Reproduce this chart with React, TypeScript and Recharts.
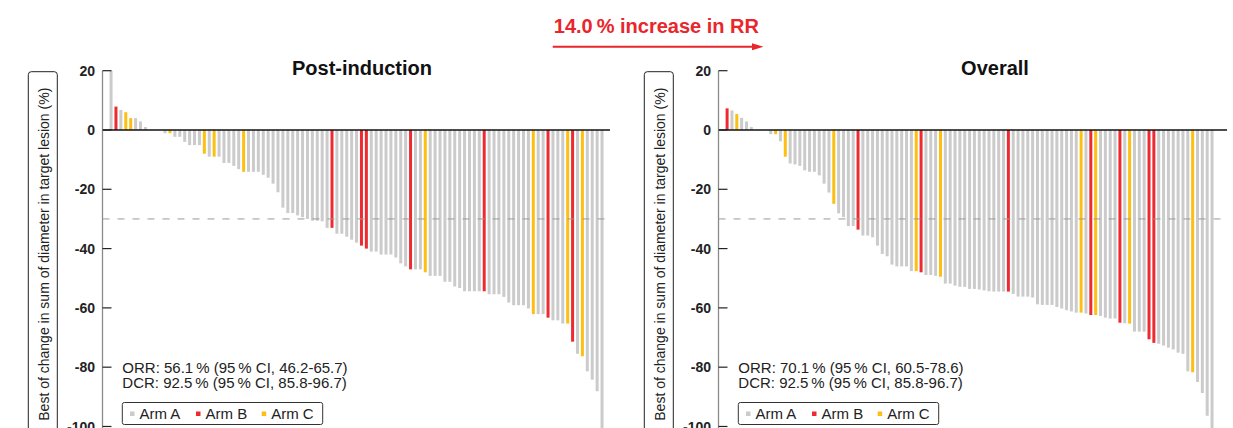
import React from 'react';
import { BarChart, Bar, XAxis, YAxis, ReferenceLine, Cell } from 'recharts';

// best % change per patient, sorted (post-induction panel)
const leftChange = [
  20, 7.9, 6.8, 6, 4, 4, 2.9, 1, 0, 0, 0, -1.1, -1.1, -2.3, -2.3, -4, -5.1, -5.1, -5.1, -8,
  -9, -9, -9, -11.1, -11.1, -12.1, -13.2, -14.1, -14.1, -14.1, -14.1, -15.1, -16.1, -18.1, -21, -26.2, -28, -28, -28.8, -29.4,
  -30, -30.6, -30.6, -30.8, -33, -33, -35, -35, -36, -37, -38, -39, -40, -41, -41, -42, -42, -42, -43, -45,
  -46, -47, -47, -47, -48, -49.2, -49.2, -49.2, -51.2, -51.2, -52.8, -53.3, -54.4, -54.4, -54.4, -54.4, -54.4, -55.4, -55.4, -55.4,
  -56.3, -58.2, -59.1, -59.1, -59.1, -60.2, -62.1, -62.1, -62.1, -63.3, -64.2, -64.2, -65.3, -65.3, -71.4, -75.5, -76.3, -81.4, -84.2, -88.1,
  -100.6,
];
const leftArmB = [2, 46, 52, 53, 62, 77, 90, 95];
const leftArmC = [4, 5, 13, 20, 22, 28, 65, 87, 94, 97];

// best % change per patient, sorted (overall panel)
const rightChange = [
  7.3, 6.6, 5.4, 4.1, 2.9, 1, 0, 0, 0, -1.4, -1.4, -3.8, -9, -11.3, -11.6, -12.1, -13.6, -14.1, -14.1, -15.3,
  -18.1, -21.1, -24.9, -28.1, -29.4, -32.4, -32.4, -33.6, -35.6, -35.6, -36.2, -39, -41.8, -42.6, -45.4, -46, -46, -46, -47.6, -47.6,
  -48, -48.9, -48.9, -49.2, -49.5, -51.8, -51.8, -52.5, -52.9, -52.9, -53.6, -53.6, -53.8, -54.1, -54.4, -54.5, -54.5, -54.5, -54.5, -55.3,
  -56.2, -56.2, -56.2, -56.5, -58.8, -59, -59, -59, -59.7, -60.2, -60.8, -61.2, -61.6, -61.6, -61.9, -62.4, -62.4, -62.7, -63.3, -63.6,
  -63.6, -65, -65.2, -65.3, -68, -68, -68, -70.6, -71.8, -72.1, -72.7, -73.4, -74, -75.1, -75.5, -81.4, -81.7, -85, -88.7, -96.4,
  -100.6,
];
const rightArmB = [1, 28, 41, 59, 76, 82, 88, 89];
const rightArmC = [3, 11, 13, 23, 40, 45, 74, 77, 84, 97];

const yTicks = [20, 0, -20, -40, -60, -80, -100];
const responseCutoff = -30;

const armNames = ['Arm A', 'Arm B', 'Arm C'];
const armColors = ['#cbcbcb', '#ee2a30', '#fdbf12'];

const leftStats = ['ORR: 56.1\u2009% (95\u2009% CI, 46.2-65.7)', 'DCR: 92.5\u2009% (95\u2009% CI, 85.8-96.7)'];
const rightStats = ['ORR: 70.1\u2009% (95\u2009% CI, 60.5-78.6)', 'DCR: 92.5\u2009% (95\u2009% CI, 85.8-96.7)'];

const FONT = '"Liberation Sans", Arial, Helvetica, sans-serif';
const OFFSET = 616; // horizontal shift of the second panel

const buildRows = (values: number[], armB: number[], armC: number[]) =>
  values.map((v, i) => {
    const rank = i + 1;
    const arm = armB.includes(rank) ? 1 : armC.includes(rank) ? 2 : 0;
    return { rank, change: v, arm };
  });

const YTick = ({ x, y, payload }: any) => (
  <g>
    <line x1={x} x2={x + 9} y1={y} y2={y} stroke="#222" strokeWidth={1.2} />
    <text x={x - 7.5} y={y} dy="0.36em" textAnchor="end" fontSize={14} fontWeight="bold" fill="#222" fontFamily={FONT}>
      {payload.value}
    </text>
  </g>
);

interface PanelProps {
  values: number[];
  armB: number[];
  armC: number[];
  width: number;
  marginRight: number;
  padding: { left: number; right: number };
}

const Waterfall: React.FC<PanelProps> = ({ values, armB, armC, width, marginRight, padding }) => {
  const rows = buildRows(values, armB, armC);
  return (
    <BarChart width={width} height={450} data={rows} margin={{ top: 70.7, right: marginRight, bottom: 8.7, left: 0 }}>
      <XAxis dataKey="rank" type="category" hide padding={padding} />
      <YAxis
        type="number"
        domain={[-105, 20]}
        ticks={yTicks}
        interval={0}
        width={102.5}
        tickSize={0}
        tickMargin={0}
        tickLine={false}
        tick={<YTick />}
        axisLine={{ stroke: '#8a8a8a', strokeWidth: 1.3 }}
      />
      <Bar dataKey="change" barSize={3} isAnimationActive={false}>
        {rows.map((r) => (
          <Cell key={r.rank} fill={armColors[r.arm]} />
        ))}
      </Bar>
      <ReferenceLine y={responseCutoff} stroke="#9a9a9a" strokeWidth={1} strokeDasharray="7 8" />
      <ReferenceLine y={0} stroke="#111" strokeWidth={1.3} />
    </BarChart>
  );
};

const PanelText: React.FC<{ dx: number; title: string; titleX: number; stats: string[] }> = ({ dx, title, titleX, stats }) => (
  <g fontFamily={FONT}>
    <rect x={28.3 + dx} y={71.7} width={29} height={365} rx={3} fill="none" stroke="#222" strokeWidth={1} />
    <text transform={`translate(${48.8 + dx}, 254.2) rotate(-90)`} textAnchor="middle" fontSize={14} fill="#222">
      Best of change in sum of diameter in target lesion (%)
    </text>
    <text x={titleX} y={75} textAnchor="middle" fontSize={20} fontWeight="bold" fill="#111">
      {title}
    </text>
    {stats.map((s, i) => (
      <text key={s} x={122.3 + dx} y={372.5 + i * 15.5} fontSize={15} fill="#222">
        {s}
      </text>
    ))}
    <rect x={122.3 + dx} y={402.5} width={200.4} height={22} rx={2} fill="#fff" stroke="#333" strokeWidth={1} />
    {armNames.map((name, i) => {
      const x0 = [130, 196, 261.7][i] + dx;
      return (
        <g key={name}>
          <rect x={x0} y={411.5} width={4.5} height={4.5} fill={armColors[i]} />
          <text x={x0 + 9.5} y={418.5} fontSize={15} fill="#222">
            {name}
          </text>
        </g>
      );
    })}
  </g>
);

export default function App() {
  return (
    <div
      style={{
        position: 'fixed',
        left: 0,
        top: 0,
        width: 1233,
        height: 428,
        overflow: 'hidden',
        background: '#fff',
        fontFamily: FONT,
      }}
    >
      <div style={{ position: 'absolute', left: 0, top: 0 }}>
        <Waterfall values={leftChange} armB={leftArmB} armC={leftArmC} width={620} marginRight={10} padding={{ left: 6.05, right: 5.55 }} />
      </div>
      <div style={{ position: 'absolute', left: OFFSET, top: 0 }}>
        <Waterfall values={rightChange} armB={rightArmB} armC={rightArmC} width={617} marginRight={6} padding={{ left: 6.1, right: 12.6 }} />
      </div>
      <svg width={1233} height={428} style={{ position: 'absolute', left: 0, top: 0, pointerEvents: 'none' }}>
        <PanelText dx={0} title="Post-induction" titleX={362} stats={leftStats} />
        <PanelText dx={OFFSET} title="Overall" titleX={995} stats={rightStats} />
        <text x={656.4} y={33.3} textAnchor="middle" fontSize={20} fontWeight="bold" fill="#e8262b" fontFamily={FONT}>
          14.0{'\u2009'}% increase in RR
        </text>
        <line x1={552.7} y1={46.7} x2={753} y2={46.7} stroke="#e8262b" strokeWidth={2} />
        <polygon points="752,43.2 763.5,46.7 752,50.2" fill="#e8262b" />
      </svg>
    </div>
  );
}
